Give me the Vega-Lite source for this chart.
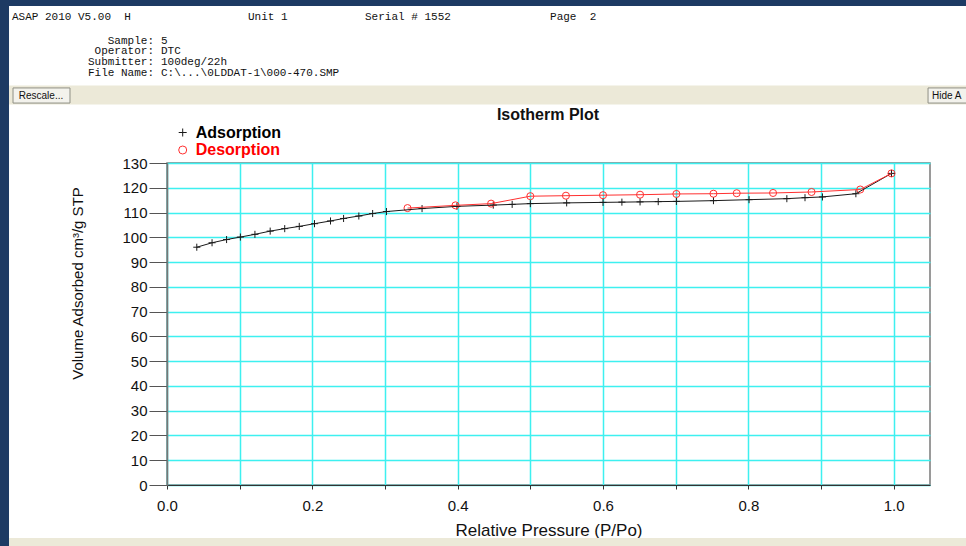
{
  "$schema": "https://vega.github.io/schema/vega-lite/v6.json",
  "width": 763,
  "height": 322,
  "autosize": {"type": "none"},
  "padding": {"left": 167, "top": 163, "right": 36, "bottom": 61},
  "background": "white",
  "config": {
    "view": {"stroke": "#7a7a7a", "strokeWidth": 1.5},
    "font": "Liberation Sans"
  },
  "data": {
    "values": [
      {"series": "Adsorption", "p": 0.041, "v": 96.0},
      {"series": "Adsorption", "p": 0.062, "v": 97.8},
      {"series": "Adsorption", "p": 0.082, "v": 99.1},
      {"series": "Adsorption", "p": 0.101, "v": 100.1},
      {"series": "Adsorption", "p": 0.121, "v": 101.2},
      {"series": "Adsorption", "p": 0.142, "v": 102.5},
      {"series": "Adsorption", "p": 0.162, "v": 103.5},
      {"series": "Adsorption", "p": 0.182, "v": 104.4},
      {"series": "Adsorption", "p": 0.203, "v": 105.5},
      {"series": "Adsorption", "p": 0.225, "v": 106.6},
      {"series": "Adsorption", "p": 0.243, "v": 107.6},
      {"series": "Adsorption", "p": 0.264, "v": 108.6},
      {"series": "Adsorption", "p": 0.283, "v": 109.6},
      {"series": "Adsorption", "p": 0.302, "v": 110.4},
      {"series": "Adsorption", "p": 0.351, "v": 111.6},
      {"series": "Adsorption", "p": 0.399, "v": 112.5},
      {"series": "Adsorption", "p": 0.449, "v": 113.0},
      {"series": "Adsorption", "p": 0.475, "v": 113.3},
      {"series": "Adsorption", "p": 0.500, "v": 113.6},
      {"series": "Adsorption", "p": 0.550, "v": 113.9},
      {"series": "Adsorption", "p": 0.600, "v": 114.1},
      {"series": "Adsorption", "p": 0.626, "v": 114.2},
      {"series": "Adsorption", "p": 0.651, "v": 114.3},
      {"series": "Adsorption", "p": 0.676, "v": 114.4},
      {"series": "Adsorption", "p": 0.701, "v": 114.5},
      {"series": "Adsorption", "p": 0.752, "v": 114.8},
      {"series": "Adsorption", "p": 0.801, "v": 115.2},
      {"series": "Adsorption", "p": 0.853, "v": 115.6},
      {"series": "Adsorption", "p": 0.878, "v": 116.0},
      {"series": "Adsorption", "p": 0.902, "v": 116.3},
      {"series": "Adsorption", "p": 0.948, "v": 117.6},
      {"series": "Adsorption", "p": 0.997, "v": 125.8},
      {"series": "Desorption", "p": 0.997, "v": 125.8},
      {"series": "Desorption", "p": 0.954, "v": 119.3},
      {"series": "Desorption", "p": 0.887, "v": 118.3},
      {"series": "Desorption", "p": 0.834, "v": 117.9},
      {"series": "Desorption", "p": 0.784, "v": 117.8},
      {"series": "Desorption", "p": 0.752, "v": 117.6},
      {"series": "Desorption", "p": 0.701, "v": 117.5},
      {"series": "Desorption", "p": 0.651, "v": 117.2},
      {"series": "Desorption", "p": 0.600, "v": 117.0},
      {"series": "Desorption", "p": 0.549, "v": 116.8},
      {"series": "Desorption", "p": 0.500, "v": 116.6},
      {"series": "Desorption", "p": 0.446, "v": 113.6},
      {"series": "Desorption", "p": 0.397, "v": 112.9},
      {"series": "Desorption", "p": 0.331, "v": 111.8}
    ]
  },
  "layer": [
    {
      "mark": {"type": "point", "filled": false, "strokeWidth": 1, "size": 50, "opacity": 1, "clip": false},
      "encoding": {
        "x": {
          "field": "p", "type": "quantitative",
          "scale": {"domain": [0, 1.05], "nice": false, "zero": false},
          "axis": {
            "title": "Relative Pressure (P/Po)",
            "values": [0, 0.1, 0.2, 0.3, 0.4, 0.5, 0.6, 0.7, 0.8, 0.9, 1.0],
            "tickCount": 30,
            "labelExpr": "(round(datum.value*10) % 2 == 0) ? format(datum.value, '.1f') : ''",
            "labelOverlap": false, "labelFlush": false,
            "grid": true, "gridColor": "#3df0f0", "gridWidth": 1.5, "gridOpacity": 1,
            "tickSize": 4, "tickColor": "#333", "domainColor": "#333", "domainWidth": 1.2,
            "labelFont": "Liberation Sans", "labelFontSize": 15, "labelColor": "#111", "labelPadding": 9,
            "titleFont": "Liberation Sans", "titleFontSize": 17, "titleFontWeight": "normal", "titleColor": "#111",
            "titleY": 45, "titleBaseline": "middle"
          }
        },
        "y": {
          "field": "v", "type": "quantitative",
          "scale": {"domain": [0, 130], "nice": false, "zero": false},
          "axis": {
            "title": "Volume Adsorbed cm³/g STP",
            "values": [0, 10, 20, 30, 40, 50, 60, 70, 80, 90, 100, 110, 120, 130],
            "tickCount": 30,
            "labelOverlap": false, "labelFlush": false,
            "grid": true, "gridColor": "#3df0f0", "gridWidth": 1.5, "gridOpacity": 1,
            "tickSize": 18, "tickColor": "#555", "domainColor": "#777", "domainWidth": 1.5,
            "labelFont": "Liberation Sans", "labelFontSize": 15, "labelColor": "#111", "labelPadding": 2,
            "titleFont": "Liberation Sans", "titleFontSize": 15, "titleFontWeight": "normal", "titleColor": "#111",
            "titleX": -89.5, "titleY": 120, "titleAngle": 270, "titleAlign": "center", "titleBaseline": "middle"
          }
        },
        "color": {
          "field": "series", "type": "nominal",
          "scale": {"domain": ["Adsorption", "Desorption"], "range": ["#1a1a1a", "#ff3030"]},
          "legend": {
            "title": null, "orient": "none", "legendX": 7.7, "legendY": -38.5, "padding": 0,
            "labelFont": "Liberation Sans", "labelFontSize": 16, "labelFontWeight": "bold", "labelOffset": 5, "rowPadding": 1.5,
            "symbolSize": 64, "symbolStrokeWidth": 1,
            "encode": {"labels": {"update": {"fill": {"signal": "datum.value === 'Desorption' ? '#ff0000' : '#000000'"}}}}
          }
        },
        "shape": {
          "field": "series", "type": "nominal",
          "scale": {"domain": ["Adsorption", "Desorption"], "range": ["M-1,0H1M0,-1V1", "circle"]},
          "legend": {
            "title": null, "orient": "none", "legendX": 7.7, "legendY": -38.5, "padding": 0,
            "labelFont": "Liberation Sans", "labelFontSize": 16, "labelFontWeight": "bold", "labelOffset": 5, "rowPadding": 1.5,
            "symbolSize": 64, "symbolStrokeWidth": 1,
            "encode": {"labels": {"update": {"fill": {"signal": "datum.value === 'Desorption' ? '#ff0000' : '#000000'"}}}}
          }
        }
      }
    },
    {
      "mark": {"type": "line", "strokeWidth": 1, "clip": false},
      "encoding": {
        "x": {"field": "p", "type": "quantitative"},
        "y": {"field": "v", "type": "quantitative"},
        "color": {
          "field": "series", "type": "nominal",
          "scale": {"domain": ["Adsorption", "Desorption"], "range": ["#1a1a1a", "#ff3030"]},
          "legend": {
            "title": null, "orient": "none", "legendX": 7.7, "legendY": -38.5, "padding": 0,
            "labelFont": "Liberation Sans", "labelFontSize": 16, "labelFontWeight": "bold", "labelOffset": 5, "rowPadding": 1.5,
            "symbolSize": 64, "symbolStrokeWidth": 1,
            "encode": {"labels": {"update": {"fill": {"signal": "datum.value === 'Desorption' ? '#ff0000' : '#000000'"}}}}
          }
        }
      }
    },
    {
      "data": {"values": [{}]},
      "mark": {"type": "rect", "color": "#1d3a63", "clip": false},
      "encoding": {
        "x": {"datum": -0.3, "type": "quantitative"},
        "x2": {"datum": 1.2},
        "y": {"datum": 200, "type": "quantitative"},
        "y2": {"datum": 193.4}
      }
    },
    {
      "data": {"values": [{}]},
      "mark": {"type": "rect", "color": "#1d3a63", "clip": false},
      "encoding": {
        "x": {"datum": -0.3, "type": "quantitative"},
        "x2": {"datum": -0.2174},
        "y": {"datum": 200, "type": "quantitative"},
        "y2": {"datum": -30}
      }
    },
    {
      "data": {"values": [{}]},
      "mark": {"type": "rect", "color": "#ece9d8", "clip": false},
      "encoding": {
        "x": {"datum": -0.2174, "type": "quantitative"},
        "x2": {"datum": 1.2},
        "y": {"datum": 161.3, "type": "quantitative"},
        "y2": {"datum": 153.6}
      }
    },
    {
      "data": {"values": [{}]},
      "mark": {"type": "rect", "color": "#ece9d8", "clip": false},
      "encoding": {
        "x": {"datum": -0.2174, "type": "quantitative"},
        "x2": {"datum": 1.2},
        "y": {"datum": -21.4, "type": "quantitative"},
        "y2": {"datum": -30}
      }
    },
    {
      "data": {"values": [{}]},
      "mark": {"type": "rect", "fill": "#f3f2ec", "stroke": "#8f8f85", "strokeWidth": 1, "clip": false},
      "encoding": {
        "x": {"datum": -0.2119, "type": "quantitative"},
        "x2": {"datum": -0.1335},
        "y": {"datum": 160.3, "type": "quantitative"},
        "y2": {"datum": 154.2}
      }
    },
    {
      "data": {"values": [{}]},
      "mark": {"type": "rect", "fill": "#f3f2ec", "stroke": "#8f8f85", "strokeWidth": 1, "clip": false},
      "encoding": {
        "x": {"datum": 1.0473, "type": "quantitative"},
        "x2": {"datum": 1.2},
        "y": {"datum": 160.3, "type": "quantitative"},
        "y2": {"datum": 154.2}
      }
    },
    {
      "data": {"values": [{}]},
      "mark": {"type": "text", "text": "Rescale...", "font": "Liberation Sans", "fontSize": 10, "color": "#111", "align": "center", "baseline": "middle", "clip": false},
      "encoding": {
        "x": {"datum": -0.1734, "type": "quantitative"},
        "y": {"datum": 157.25, "type": "quantitative"}
      }
    },
    {
      "data": {"values": [{}]},
      "mark": {"type": "text", "text": "Hide A", "font": "Liberation Sans", "fontSize": 10, "color": "#111", "align": "left", "baseline": "middle", "clip": false},
      "encoding": {
        "x": {"datum": 1.0527, "type": "quantitative"},
        "y": {"datum": 157.25, "type": "quantitative"}
      }
    },
    {
      "data": {"values": [{}]},
      "mark": {"type": "text", "text": "ASAP 2010 V5.00\u00a0\u00a0H", "font": "Liberation Mono", "fontSize": 11, "color": "#111", "align": "left", "baseline": "middle", "clip": false},
      "encoding": {
        "x": {"datum": -0.2133, "type": "quantitative"},
        "y": {"datum": 189.07, "type": "quantitative"}
      }
    },
    {
      "data": {"values": [{}]},
      "mark": {"type": "text", "text": "Unit 1", "font": "Liberation Mono", "fontSize": 11, "color": "#111", "align": "left", "baseline": "middle", "clip": false},
      "encoding": {
        "x": {"datum": 0.1115, "type": "quantitative"},
        "y": {"datum": 189.07, "type": "quantitative"}
      }
    },
    {
      "data": {"values": [{}]},
      "mark": {"type": "text", "text": "Serial # 1552", "font": "Liberation Mono", "fontSize": 11, "color": "#111", "align": "left", "baseline": "middle", "clip": false},
      "encoding": {
        "x": {"datum": 0.2725, "type": "quantitative"},
        "y": {"datum": 189.07, "type": "quantitative"}
      }
    },
    {
      "data": {"values": [{}]},
      "mark": {"type": "text", "text": "Page\u00a0\u00a02", "font": "Liberation Mono", "fontSize": 11, "color": "#111", "align": "left", "baseline": "middle", "clip": false},
      "encoding": {
        "x": {"datum": 0.5271, "type": "quantitative"},
        "y": {"datum": 189.07, "type": "quantitative"}
      }
    },
    {
      "data": {"values": [{}]},
      "mark": {"type": "text", "text": ["Sample:", "Operator:", "Submitter:", "File Name:"], "lineHeight": 10.7, "font": "Liberation Mono", "fontSize": 11, "color": "#111", "align": "right", "baseline": "top", "clip": false},
      "encoding": {
        "x": {"datum": -0.0179, "type": "quantitative"},
        "y": {"datum": 181.84, "type": "quantitative"}
      }
    },
    {
      "data": {"values": [{}]},
      "mark": {"type": "text", "text": ["5", "DTC", "100deg/22h", "C:\\...\\0LDDAT-1\\000-470.SMP"], "lineHeight": 10.7, "font": "Liberation Mono", "fontSize": 11, "color": "#111", "align": "left", "baseline": "top", "clip": false},
      "encoding": {
        "x": {"datum": -0.0083, "type": "quantitative"},
        "y": {"datum": 181.84, "type": "quantitative"}
      }
    },
    {
      "data": {"values": [{}]},
      "mark": {"type": "text", "text": "Isotherm Plot", "font": "Liberation Sans", "fontSize": 16, "fontWeight": "bold", "color": "#111", "align": "center", "baseline": "middle", "clip": false},
      "encoding": {
        "x": {"datum": 0.5243, "type": "quantitative"},
        "y": {"datum": 149.38, "type": "quantitative"}
      }
    }
  ]
}
